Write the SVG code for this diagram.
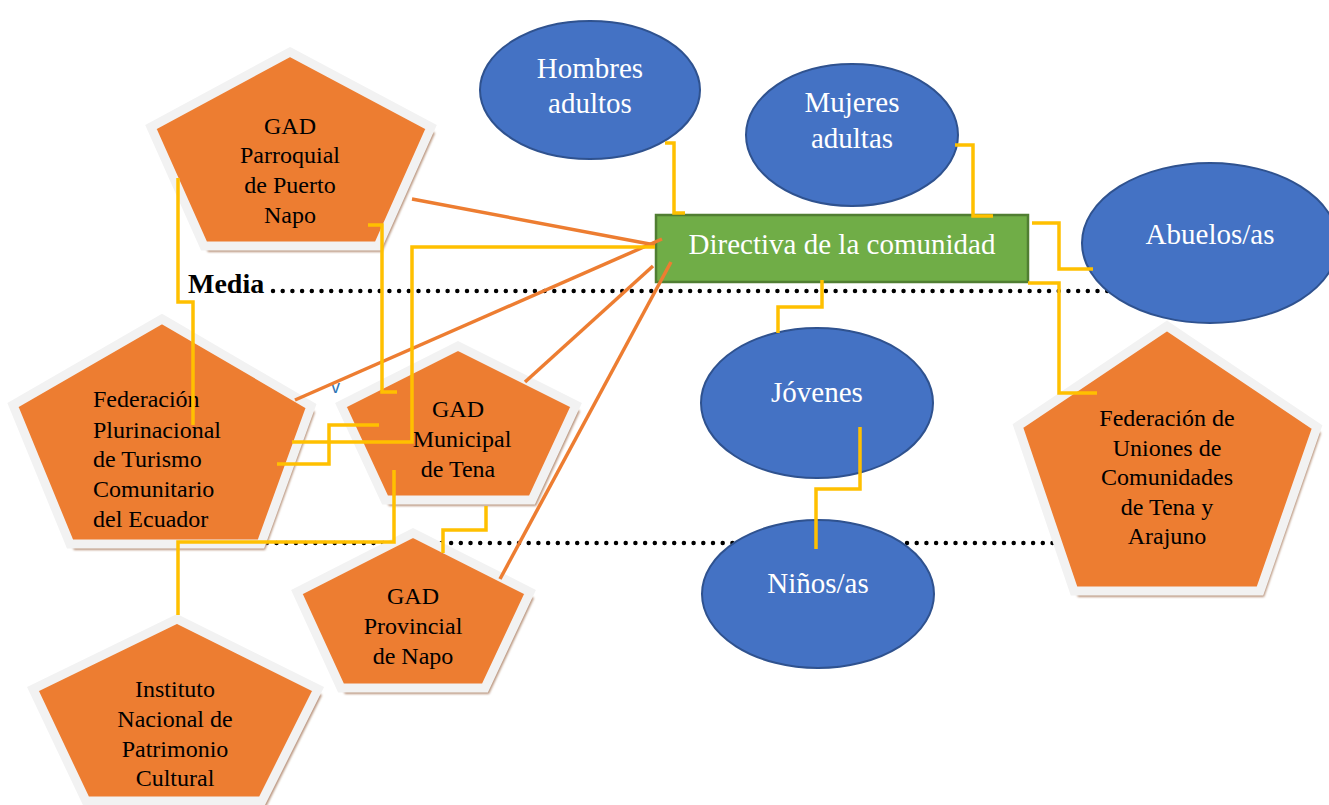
<svg xmlns="http://www.w3.org/2000/svg" width="1329" height="805" viewBox="0 0 1329 805">
<style>
.sh{fill:#b8937a;filter:url(#blur)}
.pent{fill:#ED7D31;stroke:#F2F2F2;stroke-width:9;stroke-linejoin:miter}
.ell{fill:#4472C4;stroke:#2F528F;stroke-width:2}
.pt{font-family:"Liberation Serif","Times New Roman",serif;font-size:24px;fill:#000;text-anchor:middle}
.pl{font-family:"Liberation Serif","Times New Roman",serif;font-size:24px;fill:#000;text-anchor:start}
.et{font-family:"Liberation Serif","Times New Roman",serif;font-size:29px;fill:#fff;text-anchor:middle}
.dots{stroke:#000;stroke-width:4.5;stroke-linecap:round;stroke-dasharray:0 9.7;fill:none}
.or{stroke:#ED7D31;stroke-width:3.5;fill:none}
.ye{stroke:#FFC000;stroke-width:3.5;fill:none}
</style>
<defs>
<filter id="blur" x="-10%" y="-10%" width="120%" height="120%"><feGaussianBlur stdDeviation="1"/></filter>
</defs>
<rect width="1329" height="805" fill="#fff"/>
<g id="levels">
<text x="188" y="293" font-family="Liberation Serif, serif" font-size="28" font-weight="bold" fill="#000">Media</text>
<line class="dots" x1="273" y1="291" x2="1110" y2="291"/>
<line class="dots" x1="228" y1="543" x2="1062" y2="543"/>
<text x="331" y="393" font-family="Liberation Sans, sans-serif" font-size="18" fill="#2E75B6">v</text>
</g>
<g id="hombres">
<ellipse class="ell" cx="590" cy="90" rx="110" ry="69"/>
<text class="et" x="590" y="78">Hombres</text>
<text class="et" x="590" y="113">adultos</text>
</g>
<g id="mujeres">
<ellipse class="ell" cx="852" cy="135" rx="106" ry="71"/>
<text class="et" x="852" y="112">Mujeres</text>
<text class="et" x="852" y="148">adultas</text>
</g>
<g id="abuelos">
<ellipse class="ell" cx="1210" cy="243" rx="128" ry="80"/>
<text class="et" x="1210" y="244">Abuelos/as</text>
</g>
<g id="jovenes">
<ellipse class="ell" cx="817" cy="403" rx="116" ry="75"/>
<text class="et" x="817" y="402">Jóvenes</text>
</g>
<g id="ninos">
<ellipse class="ell" cx="818" cy="594" rx="116" ry="74"/>
<text class="et" x="818" y="593">Niños/as</text>
</g>
<g id="directiva">
<rect x="656" y="215" width="372" height="67" fill="#70AD47" stroke="#507E32" stroke-width="2.5"/>
<text class="et" x="842" y="254">Directiva de la comunidad</text>
</g>
<g id="gad-parroquial">
<polygon class="sh" transform="translate(4,6)" points="290,52 431,127 378,246 204,246 151,127"/>
<polygon class="pent" points="290,52 431,127 378,246 204,246 151,127"/>
<text class="pt" x="290" y="134">GAD</text>
<text class="pt" x="290" y="163">Parroquial</text>
<text class="pt" x="290" y="193">de Puerto</text>
<text class="pt" x="290" y="223">Napo</text>
</g>
<g id="fed-plurinacional">
<polygon class="sh" transform="translate(4,6)" points="162,319 311,406 261,544 70,544 13,405"/>
<polygon class="pent" points="162,319 311,406 261,544 70,544 13,405"/>
<text class="pl" x="93" y="407">Federación</text>
<text class="pl" x="93" y="438">Plurinacional</text>
<text class="pl" x="93" y="467">de Turismo</text>
<text class="pl" x="93" y="497">Comunitario</text>
<text class="pl" x="93" y="527">del Ecuador</text>
</g>
<g id="gad-municipal">
<polygon class="sh" transform="translate(4,6)" points="458,346 576,405 532,500 385,500 341,405"/>
<polygon class="pent" points="458,346 576,405 532,500 385,500 341,405"/>
<text class="pt" x="458" y="417">GAD</text>
<text class="pt" x="462" y="447">Municipal</text>
<text class="pt" x="458" y="477">de Tena</text>
</g>
<g id="gad-provincial">
<polygon class="sh" transform="translate(4,6)" points="413,533 530,592 485,688 341,688 297,592"/>
<polygon class="pent" points="413,533 530,592 485,688 341,688 297,592"/>
<text class="pt" x="413" y="604">GAD</text>
<text class="pt" x="413" y="634">Provincial</text>
<text class="pt" x="413" y="664">de Napo</text>
</g>
<g id="instituto">
<polygon class="sh" transform="translate(4,6)" points="177,619 318,689 262,801 86,801 33,689"/>
<polygon class="pent" points="177,619 318,689 262,801 86,801 33,689"/>
<text class="pt" x="175" y="697">Instituto</text>
<text class="pt" x="175" y="727">Nacional de</text>
<text class="pt" x="175" y="757">Patrimonio</text>
<text class="pt" x="175" y="786">Cultural</text>
</g>
<g id="fed-uniones">
<polygon class="sh" transform="translate(4,6)" points="1167,326 1317,427 1260,591 1074,591 1018,426"/>
<polygon class="pent" points="1167,326 1317,427 1260,591 1074,591 1018,426"/>
<text class="pt" x="1167" y="426">Federación de</text>
<text class="pt" x="1167" y="456">Uniones de</text>
<text class="pt" x="1167" y="485">Comunidades</text>
<text class="pt" x="1167" y="515">de Tena y</text>
<text class="pt" x="1167" y="544">Arajuno</text>
</g>
<g id="connectors">
<line class="or" x1="412" y1="199" x2="655" y2="245"/>
<line class="or" x1="295" y1="400" x2="662" y2="239"/>
<line class="or" x1="525" y1="382" x2="653" y2="266"/>
<line class="or" x1="500" y1="579" x2="671" y2="262"/>
<path class="ye" d="M665,143 H674 V213 H685"/>
<path class="ye" d="M955,145 H973 V216 H993"/>
<path class="ye" d="M1032,223 H1059 V269 H1093"/>
<path class="ye" d="M1028,283 H1059 V393 H1097"/>
<path class="ye" d="M822,280 V307 H778 V333"/>
<path class="ye" d="M860,427 V489 H816 V549"/>
<path class="ye" d="M655,247 H412 V442 H292"/>
<path class="ye" d="M368,225 H382 V392 H397"/>
<path class="ye" d="M379,425 H329 V464 H277"/>
<path class="ye" d="M178,178 V302 H193 V425"/>
<path class="ye" d="M394,470 V542 H178 V615"/>
<path class="ye" d="M486,506 V530 H443 V553"/>
</g>
</svg>
